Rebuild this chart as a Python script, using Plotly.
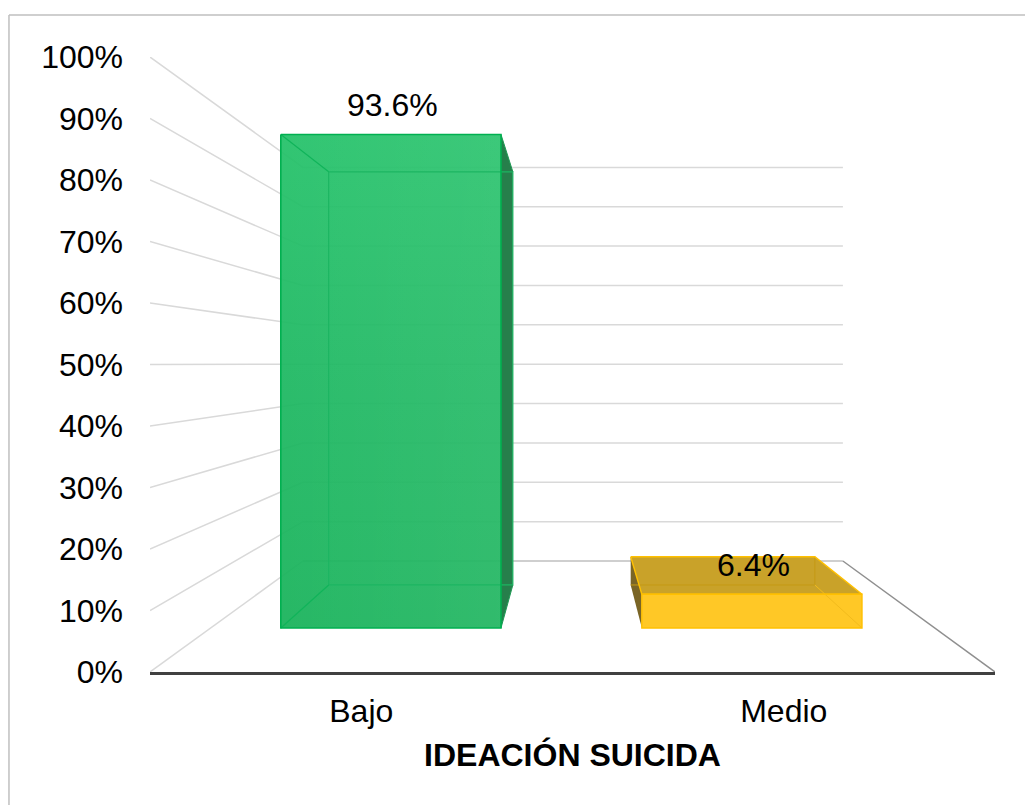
import plotly.graph_objects as go

categories = ["Bajo", "Medio"]
values = [93.6, 6.4]
value_labels = ["93.6%", "6.4%"]
y_ticks = [0, 10, 20, 30, 40, 50, 60, 70, 80, 90, 100]
y_tick_labels = ["0%", "10%", "20%", "30%", "40%", "50%", "60%", "70%", "80%", "90%", "100%"]
axis_title = "IDEACIÓN SUICIDA"

# 3-D look: projection of (category position, value, depth) on the axis scales
T_FRONT, T_BACK = 0.396, 0.784
HALF_BAR = 0.152
FONT = "Liberation Sans"


def project(pos, value, t):
    """pos: 0..1 across the floor, value: percent, t: depth 0 (front)..1 (back wall)."""
    xf = 0.181 * t + pos * (1 - 0.361 * t)
    return -0.5 + 2 * xf, 18.05 * t + value * (1 - 0.36 * t)


def path(points):
    pts = [project(*p) for p in points]
    return [p[0] for p in pts], [p[1] for p in pts]


fig = go.Figure()


def line(points, color, width):
    x, y = path(points)
    fig.add_trace(go.Scatter(x=x, y=y, mode="lines", line=dict(color=color, width=width),
                             hoverinfo="skip", showlegend=False))


def face(points, color=None, gradient=None):
    x, y = path(points + points[:1])
    kw = dict(fillcolor=color) if gradient is None else dict(fillgradient=gradient)
    fig.add_trace(go.Scatter(x=x, y=y, mode="lines", line=dict(width=0), fill="toself",
                             hoverinfo="skip", showlegend=False, **kw))


# walls
for v in y_ticks[1:]:
    line([(0, v, 0), (0, v, 1), (1, v, 1)], "#d9d9d9", 1.5)
line([(0, 0, 0), (0, 0, 1)], "#d9d9d9", 1.5)
line([(0, 0, 1), (1, 0, 1)], "#bfbfbf", 1.5)
line([(1, 0, 1), (1, 0, 0)], "#8f8f8f", 1.5)

# Bajo
c = 0.249
v = values[0]
a, b = c - HALF_BAR, c + HALF_BAR
face([(b, v, T_FRONT), (b, v, T_BACK), (b, 0, T_BACK), (b, 0, T_FRONT)], "#267f4b")
face([(a, v, T_FRONT), (b, v, T_FRONT), (b, 0, T_FRONT), (a, 0, T_FRONT)],
     gradient=dict(type="vertical", colorscale=[[0, "rgba(25,179,91,0.94)"], [0.5, "rgba(30,184,98,0.94)"],
                                                [1, "rgba(37,194,106,0.94)"]]))
face([(a, v, T_FRONT), (b, v, T_FRONT), (b, 0, T_FRONT), (a, 0, T_FRONT)],
     gradient=dict(type="horizontal", colorscale=[[0, "rgba(255,255,255,0)"], [1, "rgba(255,255,255,0.05)"]]))
line([(a, v, T_BACK), (b, v, T_BACK), (b, 0, T_BACK), (a, 0, T_BACK), (a, v, T_BACK)], "#1db562", 1.2)
line([(a, v, T_FRONT), (a, v, T_BACK)], "#10b45a", 1.2)
line([(a, 0, T_FRONT), (a, 0, T_BACK)], "#10b45a", 1.2)
line([(b, 0, T_FRONT), (b, 0, T_BACK)], "#1f9a55", 1)
line([(b, v, T_FRONT), (b, v, T_BACK)], "#1f9a55", 1)
line([(a, v, T_FRONT), (b, v, T_FRONT), (b, 0, T_FRONT), (a, 0, T_FRONT), (a, v, T_FRONT)], "#00b050", 1.6)

# Medio
c = 0.7475
v = values[1]
a, b = c - HALF_BAR, c + HALF_BAR
face([(a, v, T_BACK), (a, v, T_FRONT), (a, 0, T_FRONT), (a, 0, T_BACK)], "#7a6526")
face([(a, v, T_BACK), (b, v, T_BACK), (b, v, T_FRONT), (a, v, T_FRONT)], "#c9a229")
face([(a, v, T_FRONT), (b, v, T_FRONT), (b, 0, T_FRONT), (a, 0, T_FRONT)], "#ffc826")
line([(a, 0, T_BACK), (b, 0, T_BACK), (b, v, T_BACK)], "#c49a14", 1)
line([(b, 0, T_BACK), (b, 0, T_FRONT)], "#f2bb1c", 1)
line([(a, v, T_BACK), (b, v, T_BACK), (b, v, T_FRONT), (a, v, T_FRONT), (a, v, T_BACK)], "#ffc000", 1.4)
line([(a, v, T_FRONT), (b, v, T_FRONT), (b, 0, T_FRONT), (a, 0, T_FRONT), (a, v, T_FRONT)], "#ffc000", 1.4)

# data labels
for i, (val, lab) in enumerate(zip(values, value_labels)):
    pos = [0.249, 0.7475][i]
    px, py = project(pos, val, T_FRONT)
    fig.add_annotation(x=px, y=py, text=lab, showarrow=False, yshift=29, xshift=1.5,
                       font=dict(family=FONT, size=32, color="#000000"))

fig.update_layout(
    width=1025, height=805, showlegend=False,
    margin=dict(l=150, r=30, t=57, b=133, autoexpand=False),
    paper_bgcolor="white", plot_bgcolor="rgba(0,0,0,0)",
    font=dict(family=FONT, size=32, color="#000000"),
    xaxis=dict(range=[-0.5, 1.5], tickvals=[0, 1], ticktext=categories, showgrid=False,
               zeroline=False, showline=True, linecolor="#404040", linewidth=3,
               ticks="", ticklabelstandoff=9,
               title=dict(text="<b>" + axis_title + "</b>", standoff=16,
                          font=dict(family=FONT, size=32))),
    yaxis=dict(range=[0, 100], tickvals=y_ticks, ticktext=y_tick_labels, showgrid=False, zeroline=False,
               showline=False, ticks="", ticklabelstandoff=26),
    shapes=[
        dict(type="line", xref="paper", yref="paper", x0=-0.1669, x1=1.04, y0=1.0683, y1=1.0683,
             line=dict(color="#bfbfbf", width=1.5)),
        dict(type="line", xref="paper", yref="paper", x0=-0.1669, x1=-0.1669, y0=1.0683, y1=-0.22,
             line=dict(color="#bfbfbf", width=1.5)),
    ],
)
fig.update_shapes(layer="below")

fig.write_html("out.html", config=dict(displayModeBar=False),
               post_script="document.body.style.margin='0';")
